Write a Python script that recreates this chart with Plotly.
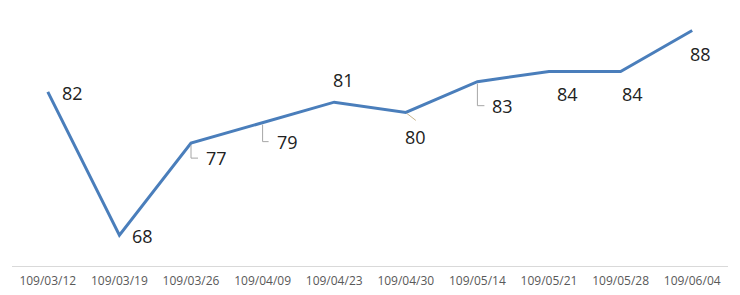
import plotly.graph_objects as go

dates = ["109/03/12", "109/03/19", "109/03/26", "109/04/09", "109/04/23",
         "109/04/30", "109/05/14", "109/05/21", "109/05/28", "109/06/04"]
values = [82, 68, 77, 79, 81, 80, 83, 84, 84, 88]

# label placement style: (xanchor, xshift, yshift, leader)
label_style = [
    ("left", 12, -1, None),
    ("left", 11, -1, None),
    ("left", 13, -15, "elbow"),
    ("left", 12, -19, "elbow"),
    ("center", 9, 22, None),
    ("center", 10, -25, "diag"),
    ("left", 13, -24, "elbow"),
    ("center", 18, -23, None),
    ("center", 12, -23, None),
    ("center", 8, -24, None),
]

fig = go.Figure()
fig.add_trace(go.Scatter(
    x=dates, y=values, mode="lines",
    line=dict(color="#4a7ebb", width=3),
    hoverinfo="skip", showlegend=False,
))

annotations = []
shapes = []
for d, v, (xa, xs, ys, leader) in zip(dates, values, label_style):
    annotations.append(dict(
        x=d, y=v, xref="x", yref="y", text=str(v), showarrow=False,
        xanchor=xa, yanchor="middle", xshift=xs, yshift=ys,
        font=dict(family="Open Sans", size=18, color="#222222"),
    ))
    if leader == "elbow":
        shapes.append(dict(
            type="path", xref="x", yref="y", xsizemode="pixel", ysizemode="pixel",
            xanchor=d, yanchor=v,
            path=f"M0,-2 L0,{ys} L{xs - 6},{ys}",
            line=dict(color="#a6a6a6", width=1),
        ))
    elif leader == "diag":
        shapes.append(dict(
            type="path", xref="x", yref="y", xsizemode="pixel", ysizemode="pixel",
            xanchor=d, yanchor=v,
            path="M1,-1 L10,-8",
            line=dict(color="#c8b48c", width=1),
        ))

fig.update_layout(
    width=740, height=295,
    margin=dict(l=12, r=12, t=10, b=29, autoexpand=False),
    paper_bgcolor="white", plot_bgcolor="white",
    annotations=annotations, shapes=shapes,
    xaxis=dict(
        type="category", range=[-0.5, len(dates) - 0.5],
        showgrid=False, zeroline=False, automargin=False,
        showline=True, linecolor="#d9d9d9", linewidth=1,
        ticks="", ticklabelstandoff=4,
        tickfont=dict(family="Open Sans", size=12, color="#595959"),
        fixedrange=True,
    ),
    yaxis=dict(
        range=[65, 90], visible=False, showgrid=False, zeroline=False,
        fixedrange=True,
    ),
)

fig.write_html("out.html", config={"displayModeBar": False})
